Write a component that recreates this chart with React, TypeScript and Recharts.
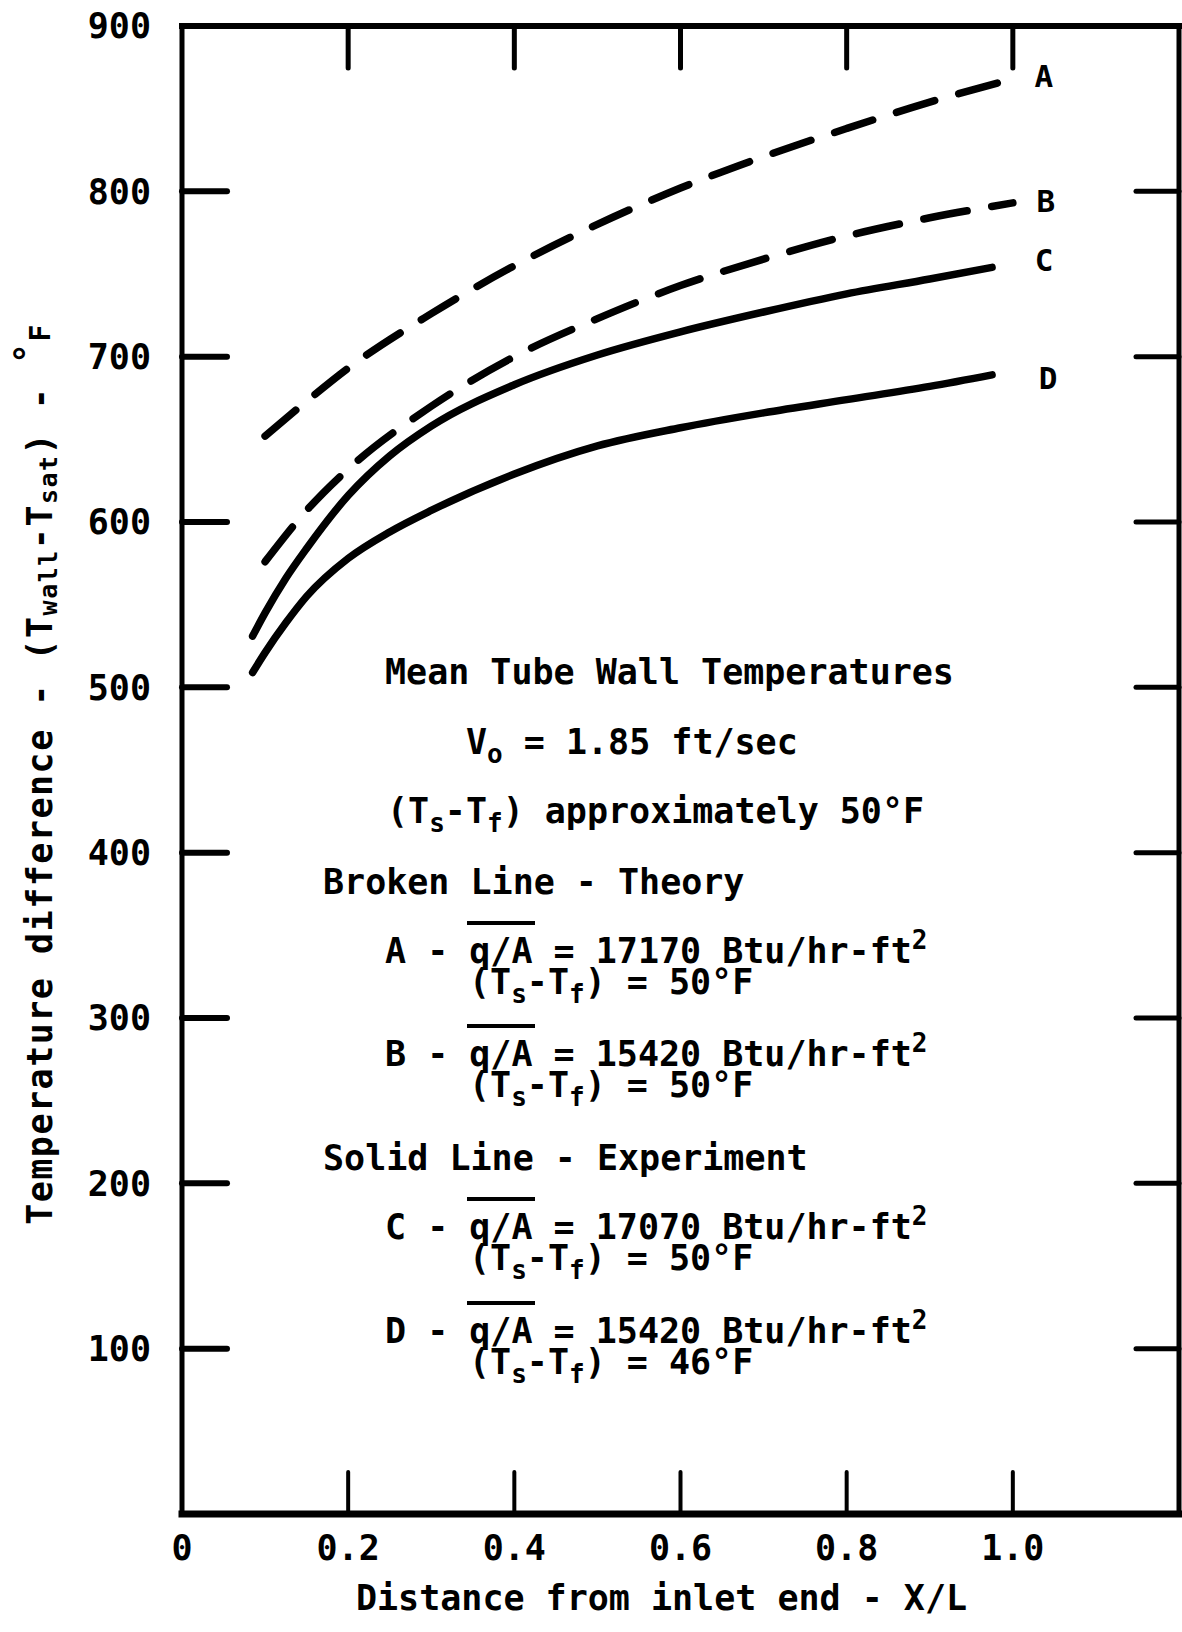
import React from 'react';
import { LineChart, Line, XAxis, YAxis } from 'recharts';

const FONT = '"DejaVu Sans Mono", monospace';

// Theory (broken lines)
const xA = [0.1, 0.15, 0.2, 0.3, 0.4, 0.5, 0.6, 0.7, 0.8, 0.9, 1.0];
const curveA = [652, 673, 693, 726, 755, 780, 802, 821, 838, 854, 868];
const xB = [0.1, 0.15, 0.2, 0.3, 0.4, 0.5, 0.6, 0.7, 0.8, 0.9, 1.0];
const curveB = [576, 607, 632, 670, 700, 723, 743, 759, 773, 784, 793];

// Experiment (solid lines)
const xC = [0.085, 0.1, 0.125, 0.15, 0.2, 0.25, 0.3, 0.4, 0.5, 0.6, 0.7, 0.8, 0.9, 0.975];
const curveC = [531, 545, 566, 584, 616, 640, 658, 683, 701, 715, 727, 738, 747, 754];
const xD = [0.085, 0.1, 0.125, 0.15, 0.2, 0.25, 0.3, 0.4, 0.5, 0.6, 0.7, 0.8, 0.9, 0.975];
const curveD = [509, 521, 539, 555, 578, 594, 607, 629, 646, 657, 666, 674, 682, 689];

const xTicks = [0, 0.2, 0.4, 0.6, 0.8, 1.0];
const xInnerTicks = [0.2, 0.4, 0.6, 0.8, 1.0];
const yTicks = [100, 200, 300, 400, 500, 600, 700, 800, 900];
const yInnerTicks = [100, 200, 300, 400, 500, 600, 700, 800];

// legend rows of the note block
const rowTags = ['A', 'B', 'C', 'D'];
const rowFlux = ['17170', '15420', '17070', '15420'];
const rowDeltaT = ['50', '50', '50', '46'];

const toPoints = (xs: number[], ys: number[]) => xs.map((x, i) => ({ x, v: ys[i] }));
const dataA = toPoints(xA, curveA);
const dataB = toPoints(xB, curveB);
const dataC = toPoints(xC, curveC);
const dataD = toPoints(xD, curveD);

const ink = '#000';
const tickFont = { fontFamily: FONT, fontWeight: 'bold', fontSize: 35, fill: ink };
const NoLabel = () => <g />;

const endLabel = (tag: string, last: number, dx: number, dy: number) => (p: any) => {
  if (p.index !== last) return <g />;
  return (
    <text x={p.x + dx} y={p.y + dy} textAnchor="middle" dominantBaseline="central"
      style={{ fontFamily: FONT, fontWeight: 'bold', fontSize: 31 }} fill={ink}>
      {tag}
    </text>
  );
};

const XTitle = (props: any) => {
  const vb = props.viewBox;
  if (!vb) return null;
  return (
    <text x={vb.x + vb.width / 2 - 19} y={vb.y + vb.height - 4} textAnchor="middle"
      style={{ fontFamily: FONT, fontWeight: 'bold', fontSize: 35 }} fill={ink}>
      Distance from inlet end - X/L
    </text>
  );
};

const YTitle = (props: any) => {
  const vb = props.viewBox;
  if (!vb) return null;
  const cx = vb.x - 22;
  const cy = vb.y + vb.height / 2 + 4;
  return (
    <text x={cx} y={cy} transform={`rotate(-90 ${cx} ${cy})`} textAnchor="middle" dominantBaseline="central"
      style={{ fontFamily: FONT, fontWeight: 'bold', fontSize: 35, letterSpacing: 1.5 }} fill={ink}>
      Temperature difference - (T
      <tspan dy={8} fontSize={25}>wall</tspan>
      <tspan dy={-8}>-T</tspan>
      <tspan dy={8} fontSize={25}>sat</tspan>
      <tspan dy={-8}>) - </tspan>
      <tspan dy={-12}>°</tspan>
      <tspan dy={12} fontSize={28}>F</tspan>
    </text>
  );
};

const line: React.CSSProperties = {
  position: 'absolute', fontFamily: FONT, fontWeight: 'bold', fontSize: 35,
  lineHeight: '30px', color: ink, whiteSpace: 'pre',
};
const Sub = ({ children }: { children: React.ReactNode }) => (
  <span style={{ fontSize: 26, position: 'relative', top: 9 }}>{children}</span>
);
const Sup = ({ children }: { children: React.ReactNode }) => (
  <span style={{ fontSize: 26, position: 'relative', top: -14 }}>{children}</span>
);
const Over = ({ children }: { children: React.ReactNode }) => (
  <span style={{ position: 'relative' }}>
    {children}
    <span style={{ position: 'absolute', left: -2, right: -2, top: -10, borderTop: '4px solid #000' }} />
  </span>
);

const rowTops = [936, 1039, 1212, 1316];

export default function App() {
  return (
    <div style={{ position: 'absolute', left: 0, top: 0, width: 1182, height: 1632, background: '#fff' }}>
      <LineChart width={1182} height={1632} margin={{ top: 26, right: 3, bottom: 18, left: 62 }}>
        <XAxis xAxisId="x" type="number" dataKey="x" domain={[0, 1.2]} allowDataOverflow ticks={xTicks}
          interval={0} height={100} tickLine={false} tickSize={0} tickMargin={21}
          tickFormatter={(v: number) => (v === 0 ? '0' : v.toFixed(1))}
          axisLine={{ stroke: ink, strokeWidth: 7, strokeLinecap: 'square' }} tick={tickFont}
          label={{ content: XTitle }} />
        <XAxis xAxisId="xb" type="number" dataKey="x" domain={[0, 1.2]} allowDataOverflow ticks={xInnerTicks}
          interval={0} mirror axisLine={false} tickSize={42}
          tickLine={{ stroke: ink, strokeWidth: 4, strokeLinecap: 'round' }} tick={NoLabel} />
        <XAxis xAxisId="xt" orientation="top" type="number" dataKey="x" domain={[0, 1.2]} allowDataOverflow
          ticks={xInnerTicks} interval={0} mirror tickSize={42}
          axisLine={{ stroke: ink, strokeWidth: 6, strokeLinecap: 'square' }}
          tickLine={{ stroke: ink, strokeWidth: 5, strokeLinecap: 'round' }} tick={NoLabel} />
        <YAxis yAxisId="y" type="number" domain={[0, 900]} allowDataOverflow ticks={yTicks} interval={0}
          width={120} tickLine={false} tickSize={0} tickMargin={31}
          axisLine={{ stroke: ink, strokeWidth: 5, strokeLinecap: 'square' }} tick={tickFont}
          label={{ content: YTitle }} />
        <YAxis yAxisId="yl" type="number" domain={[0, 900]} allowDataOverflow ticks={yInnerTicks} interval={0}
          mirror axisLine={false} tickSize={45}
          tickLine={{ stroke: ink, strokeWidth: 6, strokeLinecap: 'round' }} tick={NoLabel} />
        <YAxis yAxisId="yr" orientation="right" type="number" domain={[0, 900]} allowDataOverflow
          ticks={yInnerTicks} interval={0} mirror tickSize={43}
          axisLine={{ stroke: ink, strokeWidth: 5, strokeLinecap: 'square' }}
          tickLine={{ stroke: ink, strokeWidth: 5, strokeLinecap: 'round' }} tick={NoLabel} />

        <Line xAxisId="x" yAxisId="y" data={dataA} dataKey="v" type="monotone" stroke={ink} strokeWidth={7.5}
          strokeDasharray="40 25" strokeLinecap="round" dot={false} isAnimationActive={false}
          label={endLabel('A', dataA.length - 1, 31, -3)} />
        <Line xAxisId="x" yAxisId="y" data={dataB} dataKey="v" type="monotone" stroke={ink} strokeWidth={7.5}
          strokeDasharray="44 25" strokeLinecap="round" dot={false} isAnimationActive={false}
          label={endLabel('B', dataB.length - 1, 33, -2)} />
        <Line xAxisId="x" yAxisId="y" data={dataC} dataKey="v" type="monotone" stroke={ink} strokeWidth={7.5}
          strokeLinecap="round" dot={false} isAnimationActive={false}
          label={endLabel('C', dataC.length - 1, 52, -7)} />
        <Line xAxisId="x" yAxisId="y" data={dataD} dataKey="v" type="monotone" stroke={ink} strokeWidth={7.5}
          strokeLinecap="round" dot={false} isAnimationActive={false}
          label={endLabel('D', dataD.length - 1, 56, 3)} />
      </LineChart>

      <div style={{ ...line, left: 385, top: 657 }}>Mean Tube Wall Temperatures</div>
      <div style={{ ...line, left: 466, top: 727 }}>V<Sub>o</Sub> = 1.85 ft/sec</div>
      <div style={{ ...line, left: 387, top: 796 }}>(T<Sub>s</Sub>-T<Sub>f</Sub>) approximately 50°F</div>
      <div style={{ ...line, left: 323, top: 867 }}>Broken Line - Theory</div>
      <div style={{ ...line, left: 323, top: 1143 }}>Solid Line - Experiment</div>
      {rowTags.map((tag, i) => (
        <React.Fragment key={tag}>
          <div style={{ ...line, left: 385, top: rowTops[i] }}>
            {tag} - <Over>q/A</Over> = {rowFlux[i]} Btu/hr-ft<Sup>2</Sup>
          </div>
          <div style={{ ...line, left: 469, top: rowTops[i] + 31 }}>
            (T<Sub>s</Sub>-T<Sub>f</Sub>) = {rowDeltaT[i]}°F
          </div>
        </React.Fragment>
      ))}
    </div>
  );
}
